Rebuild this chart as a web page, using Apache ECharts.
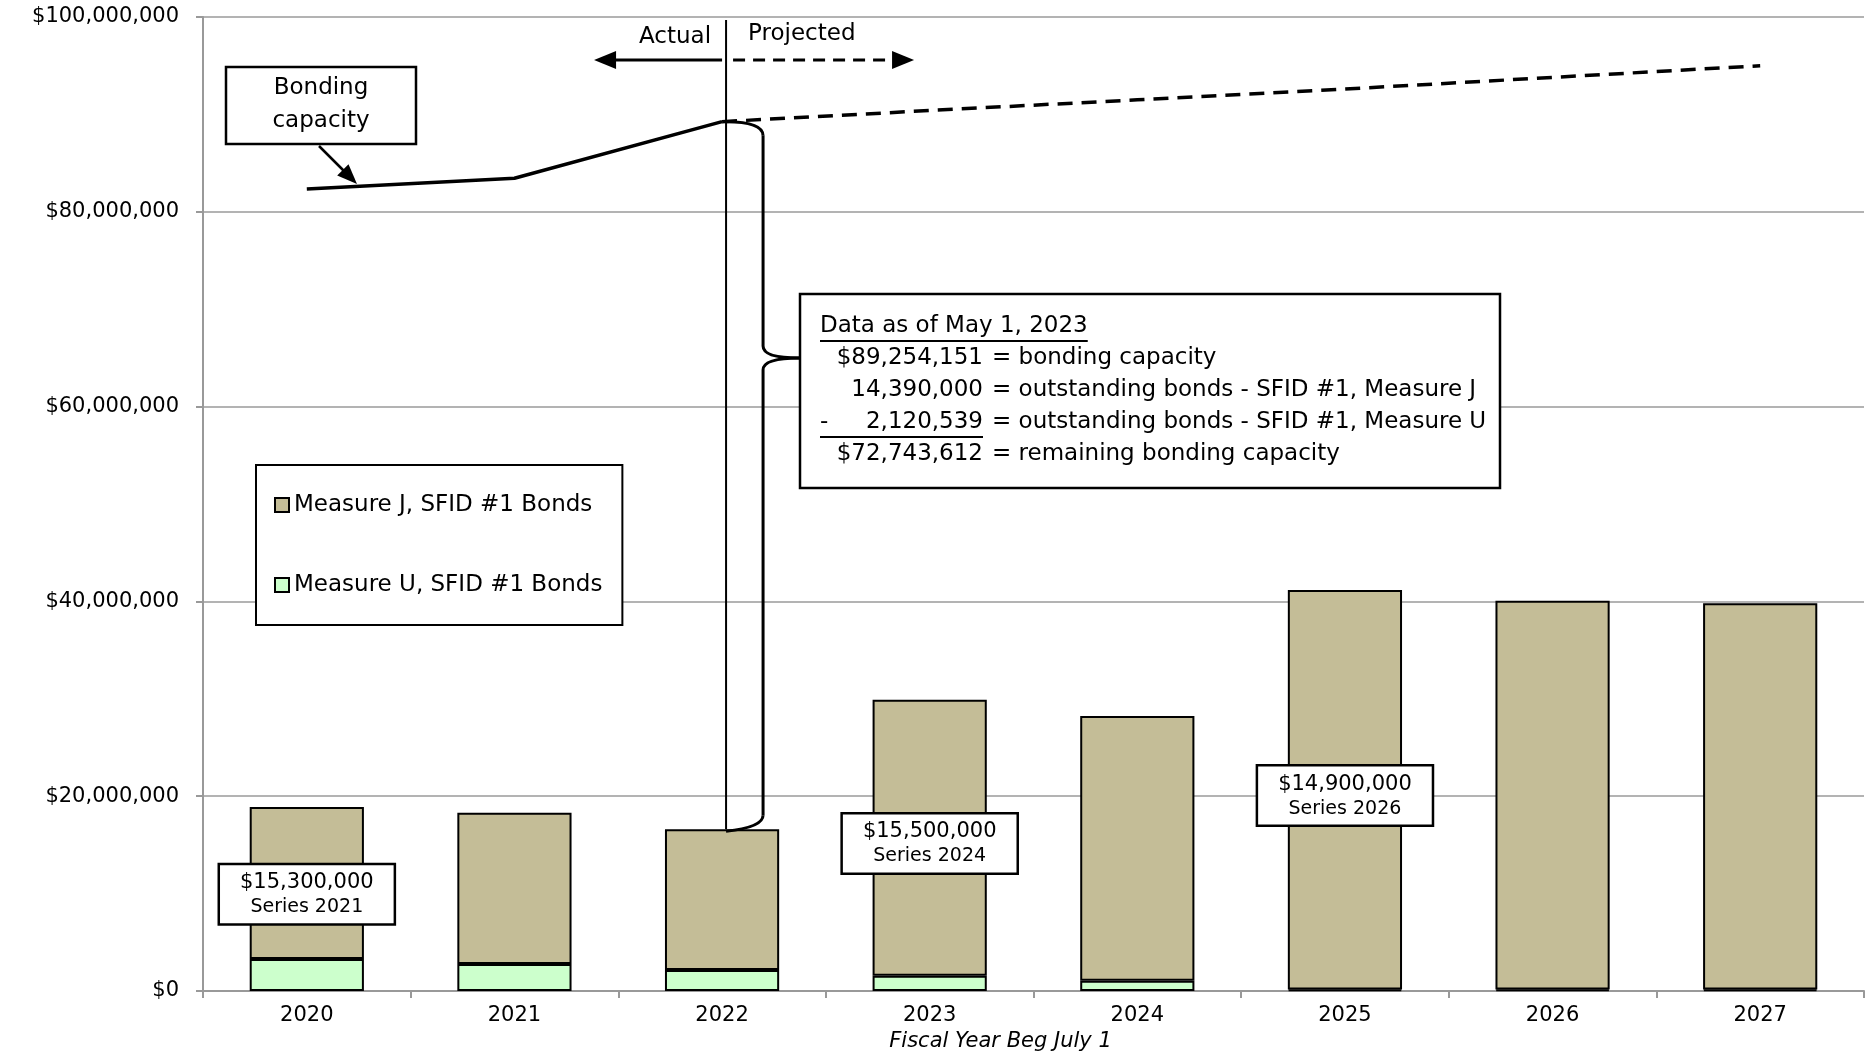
<!DOCTYPE html>
<html>
<head>
<meta charset="utf-8">
<script src="https://cdn.jsdelivr.net/npm/echarts@6/dist/echarts.min.js"></script>
<style>
  html, body { margin: 0; padding: 0; background: #fff; }
  #chart { width: 1876px; height: 1051px; }
</style>
</head>
<body>
<div id="chart"></div>
<script>
const FONT = 'DejaVu Sans'

// fiscal years (beginning July 1)
const years = ['2020', '2021', '2022', '2023', '2024', '2025', '2026', '2027']
// stacked debt service bars, dollars
const measureU = [3290000, 2770000, 2160000, 1570000, 1060000, 150000, 150000, 150000]
const measureJ = [15600000, 15540000, 14440000, 28330000, 27170000, 41020000, 39920000, 39650000]
// bonding capacity line, actual then projected
const capacityActual = [82330000, 83440000, 89254151, null, null, null, null, null]
const capacityProjected = [null, null, 89254151, 90400000, 91500000, 92600000, 93800000, 95000000]

// bond issue notes placed on the bars
const issueYears = ['2020', '2023', '2025']
const issueAnchor = [9940000, 15150000, 20060000]
const issueAmounts = ['$15,300,000', '$15,500,000', '$14,900,000']
const issueSeries = ['Series 2021', 'Series 2024', 'Series 2026']

// text of the "data as of" box
const noteHeader = 'Data as of May 1, 2023'
const noteNumbers = ['$89,254,151', '14,390,000', '2,120,539', '$72,743,612']
const noteTexts = [
  '= bonding capacity',
  '= outstanding bonds - SFID #1, Measure J',
  '= outstanding bonds - SFID #1, Measure U',
  '= remaining bonding capacity'
]

const chart = echarts.init(document.getElementById('chart'))

const option = {
  backgroundColor: '#fff',
  animation: false,
  textStyle: { fontFamily: FONT, color: '#000' },
  legend: {
    data: ['Measure J, SFID #1 Bonds', 'Measure U, SFID #1 Bonds'],
    orient: 'vertical',
    left: 256,
    top: 465,
    icon: 'rect',
    itemWidth: 14,
    itemHeight: 14,
    itemGap: 56,
    backgroundColor: '#fff',
    borderColor: '#000',
    borderWidth: 2,
    padding: [28, 20, 28, 18],
    textStyle: { fontFamily: FONT, fontSize: 23, color: '#000', lineHeight: 24 }
  },
  grid: {
    left: 203,
    right: 12,
    top: 17,
    bottom: 60,
    outerBoundsMode: 'none'
  },
  xAxis: {
    type: 'category',
    data: years,
    axisLine: { lineStyle: { color: '#999', width: 2 } },
    axisTick: { show: true, length: 7, lineStyle: { color: '#999', width: 2 } },
    axisLabel: { fontFamily: FONT, fontSize: 21, color: '#000', margin: 14 },
    name: 'Fiscal Year Beg July 1',
    nameLocation: 'middle',
    nameGap: 35,
    nameTextStyle: {
      fontFamily: FONT,
      fontSize: 21,
      fontStyle: 'italic',
      color: '#000',
      padding: [0, 66, 0, 0]
    }
  },
  yAxis: {
    type: 'value',
    min: 0,
    max: 100000000,
    interval: 20000000,
    axisLine: { show: true, lineStyle: { color: '#999', width: 2 } },
    axisTick: { show: true, length: 7, lineStyle: { color: '#999', width: 2 } },
    splitLine: { lineStyle: { color: '#9a9a9a', width: 1.5 } },
    axisLabel: {
      fontFamily: FONT,
      fontSize: 21,
      color: '#000',
      margin: 24,
      formatter: v => '$' + v.toLocaleString('en-US')
    }
  },
  series: [
    {
      name: 'Measure U, SFID #1 Bonds',
      type: 'bar',
      stack: 'bonds',
      barWidth: '55%',
      data: measureU,
      itemStyle: { color: '#ccffcc', borderColor: '#000', borderWidth: 2 }
    },
    {
      name: 'Measure J, SFID #1 Bonds',
      type: 'bar',
      stack: 'bonds',
      data: measureJ,
      itemStyle: { color: '#c4bd97', borderColor: '#000', borderWidth: 2 },
      markPoint: {
        symbol: 'rect',
        symbolSize: 1,
        itemStyle: { color: 'rgba(0,0,0,0)' },
        label: {
          show: true,
          position: 'inside',
          backgroundColor: '#fff',
          borderColor: '#000',
          borderWidth: 2.5,
          padding: [5, 20, 4, 20],
          formatter: p => `{a|${issueAmounts[p.dataIndex]}}\n{b|${issueSeries[p.dataIndex]}}`,
          rich: {
            a: { fontFamily: FONT, fontSize: 21, lineHeight: 25, color: '#000', align: 'center' },
            b: { fontFamily: FONT, fontSize: 19, lineHeight: 24, color: '#000', align: 'center' }
          }
        },
        data: issueYears.map((y, i) => ({ coord: [y, issueAnchor[i]], name: issueSeries[i] }))
      }
    },
    {
      name: 'Bonding capacity',
      type: 'line',
      data: capacityActual,
      symbol: 'none',
      z: 5,
      lineStyle: { color: '#000', width: 3.5 }
    },
    {
      name: 'Bonding capacity projected',
      type: 'line',
      data: capacityProjected,
      symbol: 'none',
      z: 5,
      lineStyle: { color: '#000', width: 3.5, type: [15, 9] }
    }
  ]
}

chart.setOption(option)

// measure text width for the underlines
const measureCtx = document.createElement('canvas').getContext('2d')
const textWidth = (txt, size) => {
  measureCtx.font = `${size}px "${FONT}"`
  return measureCtx.measureText(txt).width
}

const px = (cat, val) => chart.convertToPixel({ gridIndex: 0 }, [cat, val])

const arrowHead = (tipX, tipY, dx, dy, len, half) => {
  const n = Math.hypot(dx, dy)
  const ux = dx / n
  const uy = dy / n
  const bx = tipX - ux * len
  const by = tipY - uy * len
  return [[tipX, tipY], [bx - uy * half, by + ux * half], [bx + uy * half, by - ux * half]]
}

const buildGraphics = () => {
  const els = []
  const z = 100
  const line = (x1, y1, x2, y2, w, dash) => ({
    type: 'line', z,
    shape: { x1, y1, x2, y2 },
    style: { stroke: '#000', lineWidth: w, lineDash: dash || null }
  })
  const curve = (x1, y1, cpx1, cpy1, x2, y2, w) => ({
    type: 'bezierCurve', z,
    shape: { x1, y1, cpx1, cpy1, x2, y2 },
    style: { stroke: '#000', lineWidth: w, fill: null }
  })
  const text = (t, x, y, align, extra) => ({
    type: 'text', z: z + 1,
    style: Object.assign({ text: t, x, y, align, verticalAlign: 'middle', font: `23px "${FONT}"`, fill: '#000' }, extra || {})
  })

  // divider between actual and projected
  const divX = px('2022', 0)[0] + 4
  const topY = px('2022', 100000000)[1] + 3
  const barTopY = px('2022', measureU[2] + measureJ[2])[1]
  els.push(line(divX, topY, divX, barTopY, 2))

  // Actual / Projected arrows
  const arrowY = 60
  els.push(line(divX - 4, arrowY, divX - 115, arrowY, 3))
  els.push({ type: 'polygon', z, shape: { points: arrowHead(divX - 132, arrowY, -1, 0, 22, 9) }, style: { fill: '#000' } })
  els.push(line(divX + 7, arrowY, divX + 170, arrowY, 3, [12, 8]))
  els.push({ type: 'polygon', z, shape: { points: arrowHead(divX + 188, arrowY, 1, 0, 22, 9) }, style: { fill: '#000' } })
  els.push(text('Actual', divX - 15, 37, 'right'))
  els.push(text('Projected', divX + 22, 34, 'left'))

  // brace from capacity point down to the 2022 bar
  const braceTop = px('2022', capacityActual[2])[1]
  const xr = divX + 37
  const tipX = divX + 73
  const tipY = 358
  const braceBottom = barTopY - 2
  els.push(curve(divX, braceTop, xr, braceTop, xr, braceTop + 14, 3))
  els.push(line(xr, braceTop + 14, xr, tipY - 12, 3))
  els.push(curve(xr, tipY - 12, xr, tipY, tipX, tipY, 3))
  els.push(curve(tipX, tipY, xr, tipY, xr, tipY + 12, 3))
  els.push(line(xr, tipY + 12, xr, braceBottom - 12, 3))
  els.push(curve(xr, braceBottom - 12, xr, braceBottom, divX, braceBottom + 4, 3))

  // data box
  const bx = 800
  const by = 294
  els.push({
    type: 'rect', z,
    shape: { x: bx, y: by, width: 700, height: 194 },
    style: { fill: '#fff', stroke: '#000', lineWidth: 2.5 }
  })
  const textX = bx + 20
  const numRight = 983
  const lineY = [326, 358, 390, 422, 454]
  els.push(text(noteHeader, textX, lineY[0], 'left'))
  els.push(Object.assign(line(textX, lineY[0] + 15, textX + textWidth(noteHeader, 23), lineY[0] + 15, 2), { z: z + 1 }))
  noteNumbers.forEach((num, i) => {
    els.push(text(num, numRight, lineY[i + 1], 'right'))
    els.push(text(noteTexts[i], numRight + 9, lineY[i + 1], 'left'))
  })
  els.push(text('-', textX, lineY[3], 'left'))
  els.push(Object.assign(line(textX, lineY[3] + 15, numRight, lineY[3] + 15, 2), { z: z + 1 }))

  // bonding capacity callout
  els.push({
    type: 'rect', z,
    shape: { x: 226, y: 67, width: 190, height: 77 },
    style: { fill: '#fff', stroke: '#000', lineWidth: 2.5 }
  })
  els.push(text('Bonding\ncapacity', 321, 105, 'center', { lineHeight: 33 }))
  const target = [357, 184]
  els.push(line(319, 146, target[0] - 10, target[1] - 10, 2.5))
  els.push({ type: 'polygon', z, shape: { points: arrowHead(target[0], target[1], 38, 38, 20, 8) }, style: { fill: '#000' } })

  chart.setOption({ graphic: { elements: els } })
}

buildGraphics()
</script>
</body>
</html>
